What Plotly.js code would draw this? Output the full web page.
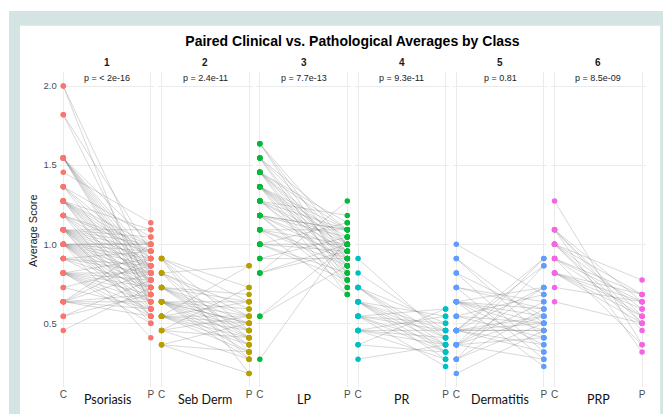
<!DOCTYPE html>
<html>
<head>
<meta charset="utf-8">
<script src="https://cdn.plot.ly/plotly-3.0.1.min.js"></script>
<style>
  html, body { margin: 0; padding: 0; background: #ffffff; }
  #chart { width: 663px; height: 414px; }
</style>
</head>
<body>
<div id="chart"></div>
<script>
// ---------------- data ----------------
const classNames = ["Psoriasis", "Seb Derm", "LP", "PR", "Dermatitis", "PRP"];
const facetLabels = ["1", "2", "3", "4", "5", "6"];
const pLabels = ["p = < 2e-16", "p = 2.4e-11", "p = 7.7e-13", "p = 9.3e-11", "p = 0.81", "p = 8.5e-09"];
const classColors = ["#F8766D", "#B79F00", "#00BA38", "#00BFC4", "#619CFF", "#F564E3"];
const xTickLabels = ["C", "P"];
const yTickValues = [0.5, 1.0, 1.5, 2.0];
const yTickLabels = ["0.5", "1.0", "1.5", "2.0"];

const psoriasisClinical = [
  2.0, 2.0,
  1.818, 1.818,
  1.545, 1.545, 1.545, 1.545, 1.545, 1.545, 1.545, 1.545,
  1.455,
  1.364, 1.364, 1.364, 1.364,
  1.273, 1.273, 1.273, 1.273, 1.273, 1.273, 1.273, 1.273, 1.273, 1.273,
  1.182, 1.182, 1.182, 1.182, 1.182, 1.182,
  1.091, 1.091, 1.091, 1.091, 1.091, 1.091, 1.091, 1.091, 1.091, 1.091, 1.091, 1.091, 1.091,
  1.0, 1.0, 1.0, 1.0, 1.0, 1.0, 1.0, 1.0, 1.0, 1.0, 1.0, 1.0, 1.0,
  0.909, 0.909, 0.909, 0.909, 0.909,
  0.818, 0.818, 0.818, 0.818, 0.818, 0.818, 0.818, 0.818, 0.818,
  0.727, 0.727,
  0.636, 0.636, 0.636, 0.636, 0.636, 0.636, 0.636,
  0.545, 0.545,
  0.455
];
const psoriasisPathological = [
  0.818, 0.591,
  0.955, 0.727,
  1.0, 0.909, 0.864, 0.818, 0.773, 0.727, 0.682, 0.636,
  1.136,
  1.045, 0.909, 0.818, 0.682,
  1.091, 1.0, 0.955, 0.909, 0.864, 0.818, 0.773, 0.727, 0.636, 0.591,
  1.0, 0.955, 0.864, 0.773, 0.682, 0.545,
  1.091, 1.045, 1.0, 0.955, 0.909, 0.864, 0.818, 0.773, 0.727, 0.682, 0.636, 0.545, 0.5,
  1.0, 1.0, 0.955, 0.909, 0.864, 0.818, 0.773, 0.727, 0.682, 0.636, 0.591, 0.545, 0.409,
  0.955, 0.864, 0.818, 0.727, 0.636,
  0.909, 0.818, 0.773, 0.727, 0.682, 0.636, 0.591, 0.545, 0.5,
  0.864, 0.591,
  1.0, 0.909, 0.818, 0.682, 0.636, 0.591, 0.545,
  0.773, 0.682,
  0.727
];

const sebDermClinical = [
  0.909, 0.909, 0.909, 0.909, 0.909,
  0.818, 0.818, 0.818, 0.818, 0.818,
  0.727, 0.727, 0.727, 0.727, 0.727, 0.727, 0.727,
  0.636, 0.636, 0.636, 0.636, 0.636, 0.636, 0.636, 0.636, 0.636, 0.636,
  0.545, 0.545, 0.545, 0.545, 0.545, 0.545, 0.545, 0.545,
  0.455, 0.455, 0.455, 0.455,
  0.364, 0.364, 0.364
];
const sebDermPathological = [
  0.727, 0.636, 0.455, 0.318, 0.182,
  0.864, 0.591, 0.545, 0.409, 0.273,
  0.682, 0.636, 0.545, 0.5, 0.455, 0.409, 0.364,
  0.636, 0.591, 0.545, 0.5, 0.5, 0.455, 0.409, 0.364, 0.318, 0.273,
  0.864, 0.636, 0.545, 0.5, 0.455, 0.409, 0.364, 0.318,
  0.727, 0.545, 0.409, 0.273,
  0.5, 0.318, 0.182
];

const lpClinical = [
  1.636, 1.636, 1.636,
  1.545, 1.545, 1.545, 1.545,
  1.455, 1.455, 1.455, 1.455, 1.455, 1.455, 1.455,
  1.364, 1.364, 1.364, 1.364, 1.364, 1.364, 1.364, 1.364,
  1.273, 1.273, 1.273, 1.273, 1.273, 1.273,
  1.182, 1.182, 1.182, 1.182, 1.182, 1.182, 1.182,
  1.091, 1.091, 1.091, 1.091, 1.091,
  1.0, 1.0, 1.0, 1.0, 1.0,
  0.909, 0.909,
  0.818, 0.818, 0.818,
  0.545, 0.545,
  0.273
];
const lpPathological = [
  1.0, 0.909, 0.818,
  1.091, 1.0, 0.864, 0.773,
  1.136, 1.091, 1.0, 0.955, 0.909, 0.818, 0.727,
  1.091, 1.045, 1.0, 0.955, 0.909, 0.864, 0.773, 0.682,
  1.182, 1.091, 1.0, 0.955, 0.864, 0.818,
  1.091, 1.091, 1.045, 0.955, 0.909, 0.773, 0.727,
  1.091, 1.0, 0.909, 0.864, 0.682,
  1.136, 1.0, 0.955, 0.818, 0.773,
  1.045, 0.909,
  1.273, 1.0, 0.955,
  1.0, 0.864,
  1.045
];

const prClinical = [
  0.909,
  0.818,
  0.727, 0.727, 0.727, 0.727,
  0.636, 0.636, 0.636, 0.636, 0.636, 0.636,
  0.545, 0.545, 0.545, 0.545, 0.545, 0.545,
  0.455, 0.455, 0.455, 0.455, 0.455,
  0.364, 0.364,
  0.273
];
const prPathological = [
  0.409,
  0.455,
  0.5, 0.409, 0.364, 0.318,
  0.545, 0.455, 0.409, 0.364, 0.318, 0.273,
  0.591, 0.5, 0.455, 0.364, 0.318, 0.227,
  0.545, 0.455, 0.409, 0.364, 0.273,
  0.591, 0.318,
  0.364
];

const dermatitisClinical = [
  1.0,
  0.909, 0.909,
  0.818, 0.818,
  0.727, 0.727, 0.727,
  0.636, 0.636, 0.636, 0.636, 0.636, 0.636, 0.636,
  0.545, 0.545, 0.545,
  0.455, 0.455, 0.455, 0.455, 0.455, 0.455, 0.455, 0.455, 0.455,
  0.364, 0.364, 0.364, 0.364, 0.364, 0.364,
  0.273, 0.273, 0.273,
  0.182
];
const dermatitisPathological = [
  0.682,
  0.5, 0.409,
  0.545, 0.318,
  0.636, 0.591, 0.273,
  0.727, 0.591, 0.545, 0.5, 0.455, 0.364, 0.227,
  0.682, 0.5, 0.409,
  0.909, 0.864, 0.727, 0.545, 0.5, 0.455, 0.455, 0.364, 0.318,
  0.909, 0.727, 0.636, 0.545, 0.409, 0.273,
  0.864, 0.591, 0.5,
  0.455
];

const prpClinical = [
  1.273,
  1.091, 1.091, 1.091, 1.091,
  1.0, 1.0, 1.0, 1.0, 1.0,
  0.909, 0.909, 0.909, 0.909,
  0.818, 0.818, 0.818, 0.818, 0.818,
  0.727,
  0.636
];
const prpPathological = [
  0.364,
  0.636, 0.545, 0.5, 0.318,
  0.773, 0.682, 0.591, 0.5, 0.455,
  0.682, 0.636, 0.545, 0.364,
  0.682, 0.636, 0.591, 0.545, 0.5,
  0.636,
  0.5
];

const clinicalByClass = [psoriasisClinical, sebDermClinical, lpClinical, prClinical, dermatitisClinical, prpClinical];
const pathologicalByClass = [psoriasisPathological, sebDermPathological, lpPathological, prPathological, dermatitisPathological, prpPathological];

// ---------------- layout geometry (pixels) ----------------
const W = 663, H = 414;
const firstC = 63.3, panelStep = 98.25, cpDist = 87.5, pad = 0.04;
const plotTop = 72, plotBottom = 387;
const py = v => 1 - v / H;
const px = v => v / W;

const traces = [];
const layout = {
  width: W, height: H,
  margin: {l: 0, r: 0, t: 0, b: 0, pad: 0},
  paper_bgcolor: "#ffffff",
  plot_bgcolor: "rgba(0,0,0,0)",
  showlegend: false,
  font: {family: "Liberation Sans, Arial, sans-serif", color: "#4d4d4d"},
  title: {
    text: "<b>Paired Clinical vs. Pathological Averages by Class</b>",
    font: {family: "Liberation Sans, Arial, sans-serif", size: 14, color: "#000000"},
    x: px(352.5), xanchor: "center", xref: "paper",
    y: py(41), yanchor: "middle", yref: "paper"
  },
  shapes: [
    {type: "rect", xref: "paper", yref: "paper", x0: px(9), x1: 1, y0: 0, y1: py(11),
     fillcolor: "#d3e4e2", line: {width: 0}, layer: "below"},
    {type: "rect", xref: "paper", yref: "paper", x0: px(20), x1: px(660.3), y0: 0, y1: py(25.7),
     fillcolor: "#ffffff", line: {width: 0}, layer: "below"}
  ],
  annotations: [],
  yaxis: {
    domain: [py(plotBottom), py(plotTop)],
    range: [0.097, 2.089],
    tickvals: yTickValues, ticktext: yTickLabels,
    tickfont: {size: 9.5, color: "#4d4d4d"},
    ticklabelstandoff: 2,
    showgrid: true, gridcolor: "#ebebeb", gridwidth: 1,
    zeroline: false, showline: false, ticks: "",
    anchor: "x", fixedrange: true
  }
};

layout.annotations.push({
  text: "Average Score", xref: "paper", yref: "paper",
  x: px(33), y: py(231), textangle: -90, showarrow: false,
  xanchor: "center", yanchor: "middle",
  font: {size: 11, color: "#1a1a1a"}
});

for (let i = 0; i < 6; i++) {
  const c = firstC + panelStep * i;
  const left = c - pad * cpDist, right = c + cpDist + pad * cpDist;
  const axName = i === 0 ? "xaxis" : "xaxis" + (i + 1);
  const xRef = i === 0 ? "x" : "x" + (i + 1);
  layout[axName] = {
    domain: [px(left), px(right)],
    range: [-pad, 1 + pad],
    tickvals: [0, 1], ticktext: xTickLabels,
    tickfont: {size: 10, color: "#4d4d4d"},
    showgrid: true, gridcolor: "#ebebeb", gridwidth: 1,
    zeroline: false, showline: false, ticks: "",
    anchor: "y", fixedrange: true
  };

  const cv = clinicalByClass[i], pv = pathologicalByClass[i];
  const lx = [], ly = [];
  for (let k = 0; k < cv.length; k++) {
    lx.push(0, 1, null);
    ly.push(cv[k], pv[k], null);
  }
  traces.push({
    type: "scatter", mode: "lines", x: lx, y: ly, xaxis: xRef, yaxis: "y",
    line: {color: "rgba(115,115,115,0.4)", width: 0.7},
    hoverinfo: "skip", connectgaps: false
  });
  traces.push({
    type: "scatter", mode: "markers",
    x: cv.map(() => 0).concat(pv.map(() => 1)),
    y: cv.concat(pv),
    xaxis: xRef, yaxis: "y",
    marker: {color: classColors[i], size: 5.5, line: {width: 0}},
    name: classNames[i]
  });

  const mid = (c + c + cpDist) / 2;
  layout.annotations.push({
    text: "<b>" + facetLabels[i] + "</b>", xref: "paper", yref: "paper",
    x: px(mid), y: py(62), showarrow: false, xanchor: "center", yanchor: "middle",
    font: {size: 10, color: "#1a1a1a"}
  });
  layout.annotations.push({
    text: pLabels[i], xref: "paper", yref: "paper",
    x: px(mid), y: py(78), showarrow: false, xanchor: "center", yanchor: "middle",
    font: {size: 9, color: "#222222"}
  });
  layout.annotations.push({
    text: classNames[i], xref: "paper", yref: "paper",
    x: px(mid), y: py(399), showarrow: false, xanchor: "center", yanchor: "middle",
    font: {family: "Lato, Carlito, sans-serif", size: 12.5, color: "#111111"}
  });
}

Plotly.newPlot("chart", traces, layout, {displayModeBar: false, staticPlot: true});
</script>
</body>
</html>
